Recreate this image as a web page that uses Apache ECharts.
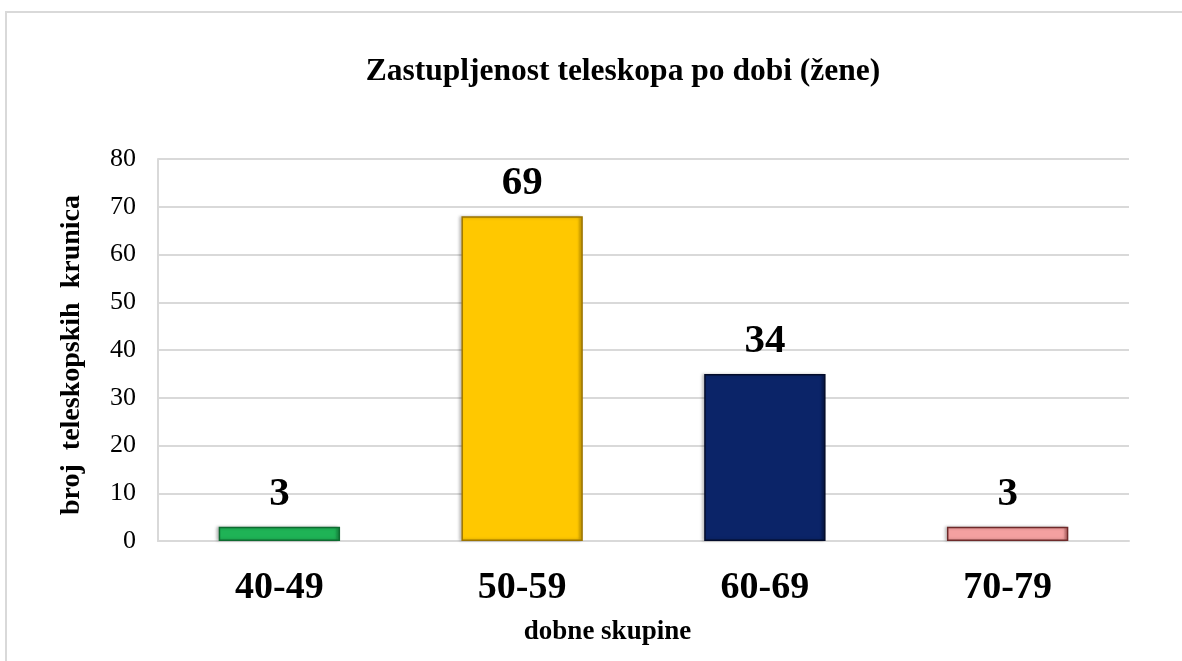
<!DOCTYPE html>
<html>
<head>
<meta charset="utf-8">
<script src="https://cdn.jsdelivr.net/npm/echarts@6/dist/echarts.min.js"></script>
<style>
html,body{margin:0;padding:0;background:#fff;}
#c{width:1182px;height:661px;}
</style>
</head>
<body>
<div id="c"></div>
<script>
// Data
var categories = ['40-49', '50-59', '60-69', '70-79'];
var barValues = [3, 68, 35, 3];          // bar heights as drawn
var labelTexts = ['3', '69', '34', '3']; // numbers printed above the bars
var yTicks = [0, 10, 20, 30, 40, 50, 60, 70, 80];
var titleText = 'Zastupljenost teleskopa po dobi (žene)';
var yName = 'broj  teleskopskih  krunica';
var xName = 'dobne skupine';

var fills = [
  ['#5fd98a', '#1fb356', '#168a41'],
  ['#ffe066', '#ffc800', '#c99a00'],
  ['#3a5aa8', '#0b2468', '#061540'],
  ['#fbd0d0', '#f4a0a0', '#b05a5a']
];
var borders = ['#0e6b30', '#9c7400', '#030c2a', '#6e2a2a'];

var serif = '"Liberation Serif", "Times New Roman", serif';
var chart = echarts.init(document.getElementById('c'));

var data = barValues.map(function (v, i) {
  return {
    value: v,
    itemStyle: {
      color: new echarts.graphic.LinearGradient(0, 0, 1, 0, [
        {offset: 0, color: fills[i][1]},
        {offset: 0.04, color: fills[i][1]},
        {offset: 0.96, color: fills[i][1]},
        {offset: 1, color: fills[i][2]}
      ]),
      borderColor: borders[i],
      borderWidth: 1.5,
      shadowColor: 'rgba(0,0,0,0.25)',
      shadowBlur: 3,
      shadowOffsetX: -2
    }
  };
});

chart.setOption({
  animation: false,
  backgroundColor: '#fff',
  graphic: [{
    type: 'rect',
    shape: {x: 6, y: 12, width: 1300, height: 800},
    style: {fill: 'none', stroke: '#d9d9d9', lineWidth: 2},
    silent: true
  }],
  title: {
    text: titleText,
    left: 618,
    top: 51,
    textAlign: 'center',
    textStyle: {fontFamily: serif, fontWeight: 'bold', fontSize: 31.5, color: '#000'}
  },
  grid: {left: 158, right: 53, top: 159, bottom: 120},
  xAxis: {
    type: 'category',
    data: categories,
    axisTick: {show: false},
    axisLine: {show: true, lineStyle: {color: '#d9d9d9', width: 2}},
    axisLabel: {fontFamily: serif, fontWeight: 'bold', fontSize: 38, color: '#000', margin: 28},
    name: xName,
    nameLocation: 'middle',
    nameGap: 78,
    nameTextStyle: {fontFamily: serif, fontWeight: 'bold', fontSize: 27, color: '#000', padding: [0, 72, 0, 0]}
  },
  yAxis: {
    type: 'value',
    min: 0,
    max: 80,
    interval: 10,
    axisLine: {show: true, lineStyle: {color: '#d9d9d9', width: 2}},
    axisTick: {show: false},
    splitLine: {lineStyle: {color: '#d9d9d9', width: 2}},
    axisLabel: {
      fontFamily: serif, fontSize: 26, color: '#000', margin: 22,
      formatter: function (v) { return yTicks.indexOf(v) >= 0 ? String(v) : ''; }
    },
    name: yName,
    nameLocation: 'middle',
    nameGap: 72,
    nameRotate: 90,
    nameTextStyle: {fontFamily: serif, fontWeight: 'bold', fontSize: 28, color: '#000', padding: [0, 10, 0, 0]}
  },
  series: [{
    type: 'bar',
    data: data,
    barWidth: '50%',
    label: {
      show: true,
      position: 'top',
      distance: 12,
      fontFamily: serif,
      fontWeight: 'bold',
      fontSize: 41,
      color: '#000',
      formatter: function (p) { return labelTexts[p.dataIndex]; }
    }
  }]
});
</script>
</body>
</html>
